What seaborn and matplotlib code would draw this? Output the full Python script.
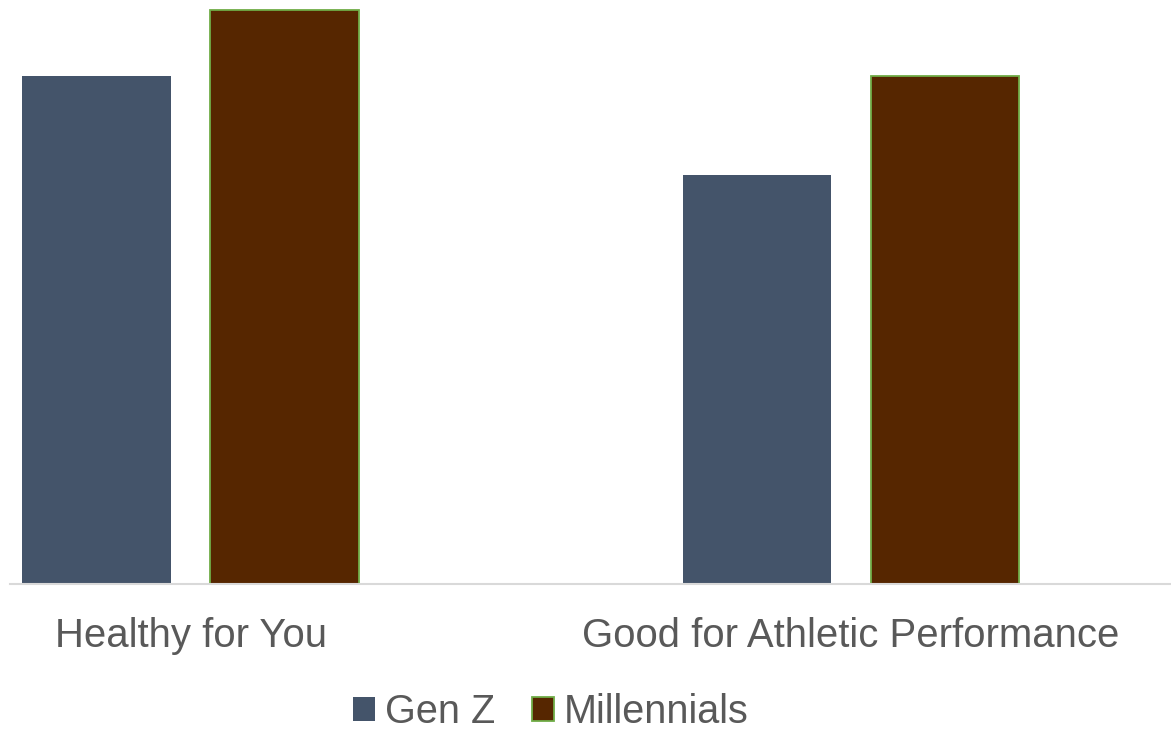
import pandas as pd
import matplotlib.pyplot as plt
import seaborn as sns
from matplotlib.patches import Patch

# ========================
# Data
# ========================
categories = ["Healthy for You", "Good for Athletic Performance"]
gen_z = [51.3, 41.3]
millennials = [58.0, 51.3]
series = ["Gen Z", "Millennials"]

fill_colors = {"Gen Z": "#44546A", "Millennials": "#562600"}
edge_colors = {"Gen Z": "none", "Millennials": "#70AD47"}

df = pd.DataFrame({
    "Category": categories * 2,
    "Group": ["Gen Z"] * len(categories) + ["Millennials"] * len(categories),
    "Value": gen_z + millennials,
})

# ========================
# Plot
# ========================
sns.set_theme(style="white")
plt.rcParams["font.family"] = ["Liberation Sans", "DejaVu Sans"]

W, H = 1171, 731
fig = plt.figure(figsize=(W / 100, H / 100), dpi=100)
ax = fig.add_axes([10 / W, (H - 584) / H, 1161 / W, 584 / H])

sns.barplot(data=df, x="Category", y="Value", hue="Group", order=categories,
            hue_order=series, palette=fill_colors, width=0.569, gap=0.21,
            saturation=1, legend=False, ax=ax)

for cont, name in zip(ax.containers, series):
    for bar in cont:
        bar.set_edgecolor(edge_colors[name])
        bar.set_linewidth(1.3 if name == "Millennials" else 0)

ax.set_xlim(-0.2733, 1.4845)
ax.set_ylim(0, 58.0 * 584 / 574)
ax.set_xlabel("")
ax.set_ylabel("")
ax.set_yticks([])
ax.tick_params(axis="x", length=0, pad=24, labelsize=28.9, labelcolor="#595959")

for side in ["top", "right", "left"]:
    ax.spines[side].set_visible(False)
ax.spines["bottom"].set_color("#D9D9D9")
ax.spines["bottom"].set_linewidth(1.5)

handles = [Patch(facecolor=fill_colors[s], edgecolor=edge_colors[s],
                 linewidth=1.3 if s == "Millennials" else 0) for s in series]
fig.legend(handles, series, loc="center", bbox_to_anchor=(551 / W, 1 - 712 / H),
           ncol=2, frameon=False, fontsize=28.5, labelcolor="#595959",
           handlelength=0.55, handleheight=0.55, handletextpad=0.26,
           columnspacing=0.92, borderaxespad=0, borderpad=0)

fig.savefig("out.png", dpi=100, facecolor="white")
plt.close(fig)
